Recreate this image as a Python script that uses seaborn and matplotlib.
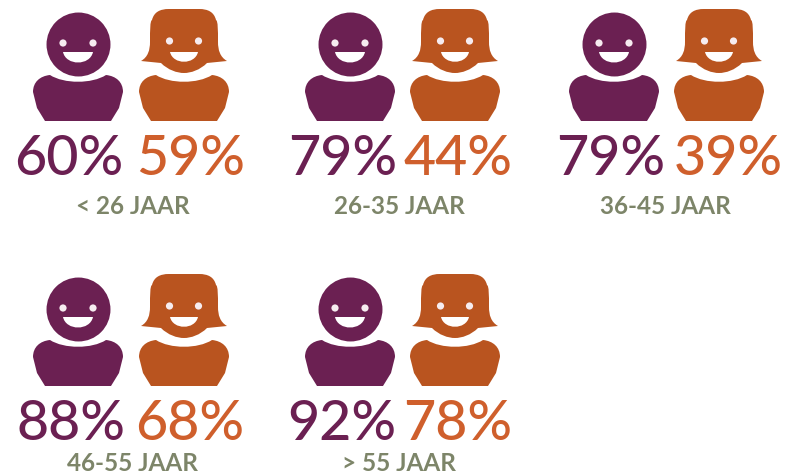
import matplotlib
matplotlib.use("Agg")
import matplotlib.pyplot as plt
from matplotlib.path import Path
from matplotlib.patches import PathPatch, Circle
import pandas as pd
import seaborn as sns

sns.set_theme(style="white")
plt.rcParams["font.family"] = ["Lato", "DejaVu Sans"]

# values
age_groups = ["< 26 JAAR", "26-35 JAAR", "36-45 JAAR", "46-55 JAAR", "> 55 JAAR"]
men_pct = [60, 79, 79, 88, 92]
women_pct = [59, 44, 39, 68, 78]

# icon layout, in pixels
men_x = [78, 350, 614, 78, 350]
women_x = [184, 455, 719, 184, 455]
row_shift = [0, 0, 0, 265, 265]
men_text_x = [69, 343, 611, 71, 342]
women_text_x = [191, 458, 728, 190, 458]
label_x = [133, 399, 665, 132, 399]
label_y = [214, 214, 214, 471, 471]

PURPLE = "#6b2052"
RUST = "#b9541f"
ORANGE = "#cf5f2c"
LABEL = "#7d8569"
EYE = "#f6ecf0"

M, L, C = Path.MOVETO, Path.LINETO, Path.CURVE4

df = pd.DataFrame({
    "group": age_groups,
    "x": men_x,
    "y": [44 + s for s in row_shift],
})


def add_path(ax, verts, codes, color, zorder=2):
    ax.add_patch(PathPatch(Path(verts, codes), fc=color, ec="none", zorder=zorder))


def draw_body(ax, cx, dy, color):
    verts = [(cx - 28, dy + 75),
             (cx - 38, dy + 76), (cx - 45, dy + 82), (cx - 45, dy + 92),
             (cx - 41, dy + 108), (cx - 33, dy + 121), (cx + 33, dy + 121), (cx + 41, dy + 108),
             (cx + 45, dy + 92),
             (cx + 45, dy + 82), (cx + 38, dy + 76), (cx + 28, dy + 75),
             (cx + 14, dy + 84), (cx - 14, dy + 84), (cx - 28, dy + 75),
             (cx - 28, dy + 75)]
    codes = [M, C, C, C, L, L, L, L, L, C, C, C, C, C, C, L]
    add_path(ax, verts, codes, color)


def draw_woman_head(ax, cx, dy, color):
    verts = [(cx - 43, dy + 61),
             (cx - 36, dy + 57), (cx - 34, dy + 50), (cx - 34, dy + 42),
             (cx - 34, dy + 30), (cx - 34, dy + 21), (cx - 32, dy + 20),
             (cx - 30, dy + 12), (cx - 24, dy + 9), (cx - 15, dy + 9),
             (cx + 15, dy + 9),
             (cx + 24, dy + 9), (cx + 30, dy + 12), (cx + 32, dy + 20),
             (cx + 34, dy + 21), (cx + 34, dy + 30), (cx + 34, dy + 42),
             (cx + 34, dy + 50), (cx + 36, dy + 57), (cx + 43, dy + 61),
             (cx + 23, dy + 63),
             (cx + 16, dy + 70), (cx + 7, dy + 73), (cx, dy + 73),
             (cx - 7, dy + 73), (cx - 16, dy + 70), (cx - 23, dy + 63),
             (cx - 43, dy + 61)]
    codes = [M] + [C] * 9 + [L] + [C] * 9 + [L] + [C] * 6 + [L]
    add_path(ax, verts, codes, color)


def draw_face(ax, cx, dy, eye_dx, eye_y, mouth_w, mouth_y, mouth_h):
    for side in (-1, 1):
        ax.add_patch(Circle((cx + side * eye_dx, dy + eye_y), 3.6, fc=EYE, ec="none", zorder=4))
    verts = [(cx - mouth_w, dy + mouth_y),
             (cx - mouth_w + 3, dy + mouth_y + mouth_h + 3),
             (cx + mouth_w - 3, dy + mouth_y + mouth_h + 3),
             (cx + mouth_w, dy + mouth_y),
             (cx - mouth_w, dy + mouth_y)]
    add_path(ax, verts, [M, C, C, C, L], "white", zorder=4)


fig, ax = plt.subplots(figsize=(7.85, 4.76), dpi=100)
fig.subplots_adjust(0, 0, 1, 1)

# men heads
sns.scatterplot(data=df, x="x", y="y", s=2120, color=PURPLE, linewidth=0,
                marker="o", legend=False, ax=ax, zorder=3)

for i, group in enumerate(age_groups):
    dy = row_shift[i]

    draw_body(ax, men_x[i], dy, PURPLE)
    draw_face(ax, men_x[i], dy, 15, 43, 15, 52, 11)

    draw_body(ax, women_x[i], dy, RUST)
    draw_woman_head(ax, women_x[i], dy, RUST)
    draw_face(ax, women_x[i], dy, 14.5, 41, 14, 52, 10)

    ax.text(men_text_x[i], dy + 175, f"{men_pct[i]}%", color=PURPLE, fontsize=40,
            fontweight="medium", ha="center", va="baseline")
    ax.text(women_text_x[i], dy + 175, f"{women_pct[i]}%", color=ORANGE, fontsize=40,
            fontweight="medium", ha="center", va="baseline")
    ax.text(label_x[i], label_y[i], group, color=LABEL, fontsize=17.5, fontweight="bold",
            ha="center", va="baseline")

ax.set_xlim(0, 785)
ax.set_ylim(476, 0)
ax.axis("off")

plt.savefig("out.png", dpi=100)
plt.close()
